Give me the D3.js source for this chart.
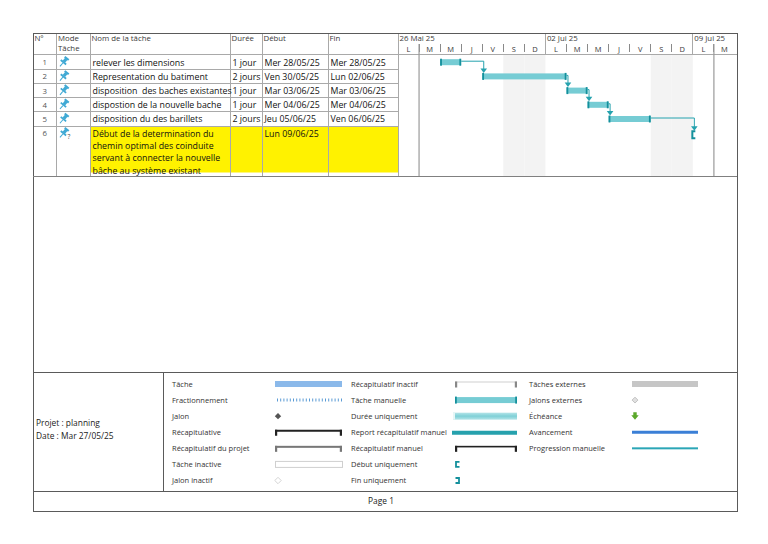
<!DOCTYPE html>
<html>
<head>
<meta charset="utf-8">
<script src="https://cdn.jsdelivr.net/npm/d3@7"></script>
<style>
  html, body { margin: 0; padding: 0; background: #fff; }
  text { font-family: "Open Sans", "Noto Sans", sans-serif; white-space: pre; }
</style>
</head>
<body>
<div id="gantt"></div>
<script>
// ---- data ----
const taskIds = [1, 2, 3, 4, 5, 6];
const taskNames = [
  "relever les dimensions",
  "Representation du batiment",
  "disposition  des baches existantes",
  "dispostion de la nouvelle bache",
  "disposition du des barillets",
  "Début de la determination du\nchemin optimal des coinduite\nservant à connecter la nouvelle\nbâche au système existant"
];
const taskDurations = ["1 jour", "2 jours", "1 jour", "1 jour", "2 jours", ""];
const taskStartLabels = ["Mer 28/05/25", "Ven 30/05/25", "Mar 03/06/25", "Mer 04/06/25", "Jeu 05/06/25", "Lun 09/06/25"];
const taskEndLabels = ["Mer 28/05/25", "Lun 02/06/25", "Mar 03/06/25", "Mer 04/06/25", "Ven 06/06/25", ""];
const taskStarts = ["2025-05-28", "2025-05-30", "2025-06-03", "2025-06-04", "2025-06-05", "2025-06-09"];
const taskEnds = ["2025-05-28", "2025-06-02", "2025-06-03", "2025-06-04", "2025-06-06", null];
const taskLinks = [[1, 2], [2, 3], [3, 4], [4, 5], [5, 6]];
const highlighted = [6];

const headerLabels = ["N°", "Mode\nTâche", "Nom de la tâche", "Durée", "Début", "Fin"];
const weekLabels = ["26 Mai 25", "02 Jui 25", "09 Jui 25"];
const dayLetters = ["D", "L", "M", "M", "J", "V", "S"];
const timelineStart = "2025-05-26";
const timelineEnd = "2025-06-11";
const markerDates = ["2025-05-27", "2025-06-10"];

const projectInfo = ["Projet : planning", "Date : Mar 27/05/25"];
const legendCol1 = ["Tâche", "Fractionnement", "Jalon", "Récapitulative", "Récapitulatif du projet", "Tâche inactive", "Jalon inactif"];
const legendCol2 = ["Récapitulatif inactif", "Tâche manuelle", "Durée uniquement", "Report récapitulatif manuel", "Récapitulatif manuel", "Début uniquement", "Fin uniquement"];
const legendCol3 = ["Tâches externes", "Jalons externes", "Échéance", "Avancement", "Progression manuelle"];
const footerText = "Page 1";

// ---- layout ----
const W = 768, H = 544;
const frame = { x0: 33, y0: 33, x1: 737, y1: 511 };
const colX = [33, 56.5, 90, 230, 262, 328, 398];
const headerBottom = 54.5;
const tableBottom = 176;
const legendTop = 372.5, legendBottom = 491, legendDivider = 163.5;

const TEAL = "#76ccd4", TEAL_DARK = "#14909c", LINK = "#25a2ae";
const GRID = "#a9a9a9", FRAME = "#5a5a5a";

const parse = d3.utcParse("%Y-%m-%d");
const x = d3.scaleUtc()
  .domain([parse(timelineStart), parse(timelineEnd)])
  .range([398, 398 + 16 * 21.06]);
const dayW = x(d3.utcDay.offset(parse(timelineStart), 1)) - x(parse(timelineStart));

const tasks = taskIds.map((id, i) => ({
  id, name: taskNames[i].split("\n"), dur: taskDurations[i],
  startLabel: taskStartLabels[i], endLabel: taskEndLabels[i],
  start: parse(taskStarts[i]), end: taskEnds[i] ? d3.utcDay.offset(parse(taskEnds[i]), 1) : null
}));

// row geometry
let yy = headerBottom + 0.5;
tasks.forEach(t => {
  const h = t.name.length > 1 ? t.name.length * 12 : 14.2;
  t.y = yy; t.h = h; t.mid = yy + 7.2;
  yy += h;
});

const svg = d3.select("#gantt").append("svg")
  .attr("width", W).attr("height", H)
  .attr("viewBox", `0 0 ${W} ${H}`);

svg.append("rect").attr("width", W).attr("height", H).attr("fill", "#fff");

// ---- weekend shading ----
const days = d3.utcDay.range(parse(timelineStart), parse(timelineEnd));
svg.append("g").selectAll("rect")
  .data(days.filter(d => d.getUTCDay() === 0 || d.getUTCDay() === 6))
  .join("rect")
  .attr("x", d => x(d)).attr("width", dayW)
  .attr("y", headerBottom).attr("height", tableBottom - headerBottom)
  .attr("fill", "#f3f3f3");

// ---- highlighted row ----
svg.append("g").selectAll("rect")
  .data(tasks.filter(t => highlighted.includes(t.id)))
  .join("rect")
  .attr("x", colX[2]).attr("width", colX[6] - colX[2])
  .attr("y", d => d.y).attr("height", d => d.h - 1.5)
  .attr("fill", "#fff200");

// ---- table grid ----
const grid = svg.append("g").attr("stroke", GRID).attr("stroke-width", 1).attr("shape-rendering", "crispEdges");
grid.selectAll("line.v").data(colX.slice(1)).join("line")
  .attr("x1", d => d).attr("x2", d => d)
  .attr("y1", frame.y0).attr("y2", tableBottom);
grid.append("line").attr("x1", colX[0]).attr("x2", frame.x1).attr("y1", headerBottom).attr("y2", headerBottom);
grid.selectAll("line.r").data(tasks.slice(0, -1)).join("line")
  .attr("x1", colX[0]).attr("x2", colX[6])
  .attr("y1", d => d.y + d.h).attr("y2", d => d.y + d.h);

// ---- header text ----
svg.append("g").selectAll("text").data(headerLabels).join("text")
  .attr("x", (d, i) => colX[i] + 1.5).attr("y", 41)
  .attr("font-size", 7.8).attr("fill", "#3a3a3a")
  .each(function(d) {
    d3.select(this).selectAll("tspan").data(d.split("\n")).join("tspan")
      .attr("x", d3.select(this).attr("x")).attr("dy", (s, j) => j ? 10 : 0).text(s => s);
  });

// ---- table rows ----
const rows = svg.append("g");
rows.selectAll("text.id").data(tasks).join("text")
  .attr("x", (colX[0] + colX[1]) / 2).attr("y", d => d.mid + 3)
  .attr("text-anchor", "middle").attr("font-size", 7.8).attr("fill", "#555")
  .text(d => d.id);

// pin icons
const pin = rows.selectAll("g.pin").data(tasks).join("g")
  .attr("transform", d => `translate(${colX[1] + 7},${d.mid}) rotate(40)`);
pin.append("rect").attr("x", -2.6).attr("y", -6).attr("width", 5.2).attr("height", 2).attr("fill", "#3fa9d4");
pin.append("rect").attr("x", -1.6).attr("y", -4.5).attr("width", 3.2).attr("height", 4).attr("fill", "#3fa9d4");
pin.append("rect").attr("x", -3.5).attr("y", -0.8).attr("width", 7).attr("height", 1.8).attr("fill", "#3fa9d4");
pin.append("line").attr("x1", 0).attr("x2", 0).attr("y1", 1).attr("y2", 5.5).attr("stroke", "#3fa9d4").attr("stroke-width", 1);
rows.selectAll("text.q").data(tasks.filter(t => !t.end)).join("text")
  .attr("x", colX[1] + 11).attr("y", d => d.mid + 6)
  .attr("font-size", 6.5).attr("fill", "#444").text("?");

const cellText = (col, acc) => rows.selectAll(null).data(tasks).join("text")
  .attr("x", colX[col] + 2.5).attr("y", d => d.mid + 3.3)
  .attr("font-size", 8.8).attr("fill", "#111")
  .each(function(d) {
    const lines = [].concat(acc(d));
    d3.select(this).selectAll("tspan").data(lines).join("tspan")
      .attr("x", colX[col] + 2.5).attr("dy", (s, j) => j ? 12.4 : 0).text(s => s);
  });
cellText(2, d => d.name);
cellText(3, d => d.dur);
cellText(4, d => d.startLabel);
cellText(5, d => d.endLabel);

// ---- timescale header ----
const th = svg.append("g").attr("shape-rendering", "crispEdges");
const weeks = d3.utcMonday.range(parse(timelineStart), parse(timelineEnd));
th.selectAll("line.w").data(weeks.slice(1)).join("line")
  .attr("x1", d => x(d)).attr("x2", d => x(d))
  .attr("y1", frame.y0).attr("y2", headerBottom).attr("stroke", GRID);
th.selectAll("text.w").data(weeks).join("text")
  .attr("x", d => x(d) + 1.5).attr("y", 41)
  .attr("font-size", 7.8).attr("fill", "#3a3a3a")
  .text((d, i) => weekLabels[i]);
th.selectAll("line.d").data(days.filter(d => d.getUTCDay() !== 1)).join("line")
  .attr("x1", d => x(d)).attr("x2", d => x(d))
  .attr("y1", 44).attr("y2", 51.5).attr("stroke", "#8a8a8a");
th.selectAll("text.d").data(days).join("text")
  .attr("x", d => x(d) + dayW / 2).attr("y", 51.5)
  .attr("text-anchor", "middle").attr("font-size", 7.5).attr("fill", "#3a3a3a")
  .text(d => dayLetters[d.getUTCDay()]);

// marker lines through chart area
svg.append("g").selectAll("line").data(markerDates).join("line")
  .attr("x1", d => x(parse(d))).attr("x2", d => x(parse(d)))
  .attr("y1", 44).attr("y2", tableBottom)
  .attr("stroke", "#9a9a9a").attr("stroke-width", 1.2);

// ---- bars ----
const barH = 6;
const bars = svg.append("g");
const full = tasks.filter(t => t.end);
bars.selectAll("rect.bar").data(full).join("rect")
  .attr("x", d => x(d.start)).attr("width", d => x(d.end) - x(d.start))
  .attr("y", d => d.mid - barH / 2).attr("height", barH)
  .attr("fill", TEAL);
bars.selectAll("rect.cs").data(full).join("rect")
  .attr("x", d => x(d.start)).attr("width", 1.8)
  .attr("y", d => d.mid - barH / 2 - 0.5).attr("height", barH + 1)
  .attr("fill", TEAL_DARK);
bars.selectAll("rect.ce").data(full).join("rect")
  .attr("x", d => x(d.end) - 1.8).attr("width", 1.8)
  .attr("y", d => d.mid - barH / 2 - 0.5).attr("height", barH + 1)
  .attr("fill", TEAL_DARK);

// start-only marker
bars.selectAll("path.so").data(tasks.filter(t => !t.end)).join("path")
  .attr("d", d => {
    const sx = x(d.start) - 0.5;
    return `M${sx + 3},${d.mid - 2} L${sx},${d.mid - 2} L${sx},${d.mid + 5} L${sx + 3},${d.mid + 5}`;
  })
  .attr("fill", "none").attr("stroke", TEAL_DARK).attr("stroke-width", 2);

// ---- links ----
const byId = new Map(tasks.map(t => [t.id, t]));
const links = svg.append("g");
taskLinks.forEach(([a, b]) => {
  const p = byId.get(a), s = byId.get(b);
  const x0 = x(p.end), ax = x(s.start) + 1.5;
  const yTop = s.end ? s.mid - barH / 2 - 0.5 : s.mid - 2.5;
  links.append("path")
    .attr("d", `M${x0},${p.mid - 1} H${ax} V${yTop - 3}`)
    .attr("fill", "none").attr("stroke", LINK).attr("stroke-width", 1);
  links.append("path")
    .attr("d", `M${ax - 3.3},${yTop - 4.5} L${ax + 3.3},${yTop - 4.5} L${ax},${yTop} Z`)
    .attr("fill", LINK);
});

// ---- frame and separators ----
const fr = svg.append("g").attr("fill", "none").attr("stroke", FRAME).attr("shape-rendering", "crispEdges");
fr.append("rect").attr("x", frame.x0).attr("y", frame.y0)
  .attr("width", frame.x1 - frame.x0).attr("height", frame.y1 - frame.y0);
fr.append("line").attr("x1", frame.x0).attr("x2", frame.x1).attr("y1", tableBottom).attr("y2", tableBottom).attr("stroke", "#808080");
fr.append("line").attr("x1", frame.x0).attr("x2", frame.x1).attr("y1", legendTop).attr("y2", legendTop);
fr.append("line").attr("x1", frame.x0).attr("x2", frame.x1).attr("y1", legendBottom).attr("y2", legendBottom);
fr.append("line").attr("x1", legendDivider).attr("x2", legendDivider).attr("y1", legendTop).attr("y2", legendBottom);

// ---- legend ----
const lg = svg.append("g");
lg.selectAll("text.p").data(projectInfo).join("text")
  .attr("x", 36).attr("y", (d, i) => 426 + i * 12.5)
  .attr("font-size", 8.4).attr("fill", "#222").text(d => d);

const legY = d3.scalePoint().domain(d3.range(7)).range([384, 480.5]);
const legendCols = [
  { labels: legendCol1, lx: 172, sx: 275, sw: 67 },
  { labels: legendCol2, lx: 351, sx: 455, sw: 62 },
  { labels: legendCol3, lx: 529, sx: 632, sw: 66 }
];
legendCols.forEach(c => {
  lg.selectAll(null).data(c.labels).join("text")
    .attr("x", c.lx).attr("y", (d, i) => legY(i) + 2.7)
    .attr("font-size", 7.5).attr("fill", "#333").text(d => d);
});

const sw = (col, row) => ({ x: legendCols[col].sx, w: legendCols[col].sw, y: legY(row) });
const capBar = (g, s, color, lineW, capColor) => {
  g.append("rect").attr("x", s.x).attr("y", s.y - 2.5).attr("width", s.w).attr("height", lineW).attr("fill", color);
  g.append("rect").attr("x", s.x).attr("y", s.y - 2.5).attr("width", 2.2).attr("height", 6).attr("fill", capColor);
  g.append("rect").attr("x", s.x + s.w - 2.2).attr("y", s.y - 2.5).attr("width", 2.2).attr("height", 6).attr("fill", capColor);
};
let s;
// column 1
s = sw(0, 0); lg.append("rect").attr("x", s.x).attr("y", s.y - 3).attr("width", s.w).attr("height", 6).attr("fill", "#8bb9ea");
s = sw(0, 1); lg.append("line").attr("x1", s.x + 2).attr("x2", s.x + s.w).attr("y1", s.y).attr("y2", s.y)
  .attr("stroke", "#5b9bd5").attr("stroke-width", 3).attr("stroke-dasharray", "1,2.2");
s = sw(0, 2); lg.append("path").attr("d", d3.symbol(d3.symbolDiamond2, 26)()).attr("transform", `translate(${s.x + 3},${s.y})`).attr("fill", "#555");
s = sw(0, 3); capBar(lg, s, "#222", 2, "#222");
s = sw(0, 4); capBar(lg, s, "#777", 2, "#777");
s = sw(0, 5); lg.append("rect").attr("x", s.x + 0.5).attr("y", s.y - 3).attr("width", s.w).attr("height", 6)
  .attr("fill", "#fff").attr("stroke", "#cfcfcf");
s = sw(0, 6); lg.append("path").attr("d", d3.symbol(d3.symbolDiamond2, 26)()).attr("transform", `translate(${s.x + 3},${s.y})`)
  .attr("fill", "#fff").attr("stroke", "#d5d5d5");
// column 2
s = sw(1, 0); capBar(lg, s, "#d0d0d0", 1, "#888");
s = sw(1, 1);
lg.append("rect").attr("x", s.x).attr("y", s.y - 3).attr("width", s.w).attr("height", 6).attr("fill", TEAL);
lg.append("rect").attr("x", s.x).attr("y", s.y - 3.5).attr("width", 1.8).attr("height", 7).attr("fill", TEAL_DARK);
lg.append("rect").attr("x", s.x + s.w - 1.8).attr("y", s.y - 3.5).attr("width", 1.8).attr("height", 7).attr("fill", TEAL_DARK);
s = sw(1, 2);
const grad = svg.append("defs").append("linearGradient").attr("id", "dur").attr("x1", 0).attr("x2", 0).attr("y1", 0).attr("y2", 1);
grad.append("stop").attr("offset", 0).attr("stop-color", "#b4e4e8");
grad.append("stop").attr("offset", 0.5).attr("stop-color", "#7fd0d7");
grad.append("stop").attr("offset", 1).attr("stop-color", "#b4e4e8");
lg.append("rect").attr("x", s.x - 2).attr("y", s.y - 3.5).attr("width", s.w + 2).attr("height", 7).attr("fill", "url(#dur)");
lg.append("rect").attr("x", s.x - 2).attr("y", s.y - 3.5).attr("width", 2).attr("height", 7).attr("fill", "#e6f6f7");
s = sw(1, 3); lg.append("rect").attr("x", s.x - 3).attr("y", s.y - 1.5).attr("width", s.w + 3).attr("height", 4).attr("fill", "#26a1ad");
s = sw(1, 4); capBar(lg, s, "#222", 1.6, "#222");
s = sw(1, 5); lg.append("path").attr("d", `M${s.x + 4.5},${s.y - 2.5} H${s.x + 1} V${s.y + 2.5} H${s.x + 4.5}`)
  .attr("fill", "none").attr("stroke", TEAL_DARK).attr("stroke-width", 1.8);
s = sw(1, 6); lg.append("path").attr("d", `M${s.x + 0.5},${s.y - 2.5} H${s.x + 4} V${s.y + 2.5} H${s.x + 0.5}`)
  .attr("fill", "none").attr("stroke", TEAL_DARK).attr("stroke-width", 1.8);
// column 3
s = sw(2, 0); lg.append("rect").attr("x", s.x).attr("y", s.y - 3).attr("width", s.w).attr("height", 6).attr("fill", "#c6c6c6");
s = sw(2, 1); lg.append("path").attr("d", d3.symbol(d3.symbolDiamond2, 22)()).attr("transform", `translate(${s.x + 3},${s.y})`)
  .attr("fill", "#e0e0e0").attr("stroke", "#c4c4c4");
s = sw(2, 2); lg.append("path")
  .attr("d", `M${s.x + 1.3},${s.y - 4} h3.4 v3 h2 l-3.7,4.5 l-3.7,-4.5 h2 Z`).attr("fill", "#5ba82a");
s = sw(2, 3); lg.append("rect").attr("x", s.x).attr("y", s.y - 1.5).attr("width", s.w).attr("height", 3).attr("fill", "#3b7fd6");
s = sw(2, 4); lg.append("rect").attr("x", s.x).attr("y", s.y - 1).attr("width", s.w).attr("height", 2).attr("fill", "#2ba6b6");

// ---- footer ----
svg.append("text").attr("x", 381).attr("y", 504).attr("text-anchor", "middle")
  .attr("font-size", 8.4).attr("fill", "#222").text(footerText);
</script>
</body>
</html>
